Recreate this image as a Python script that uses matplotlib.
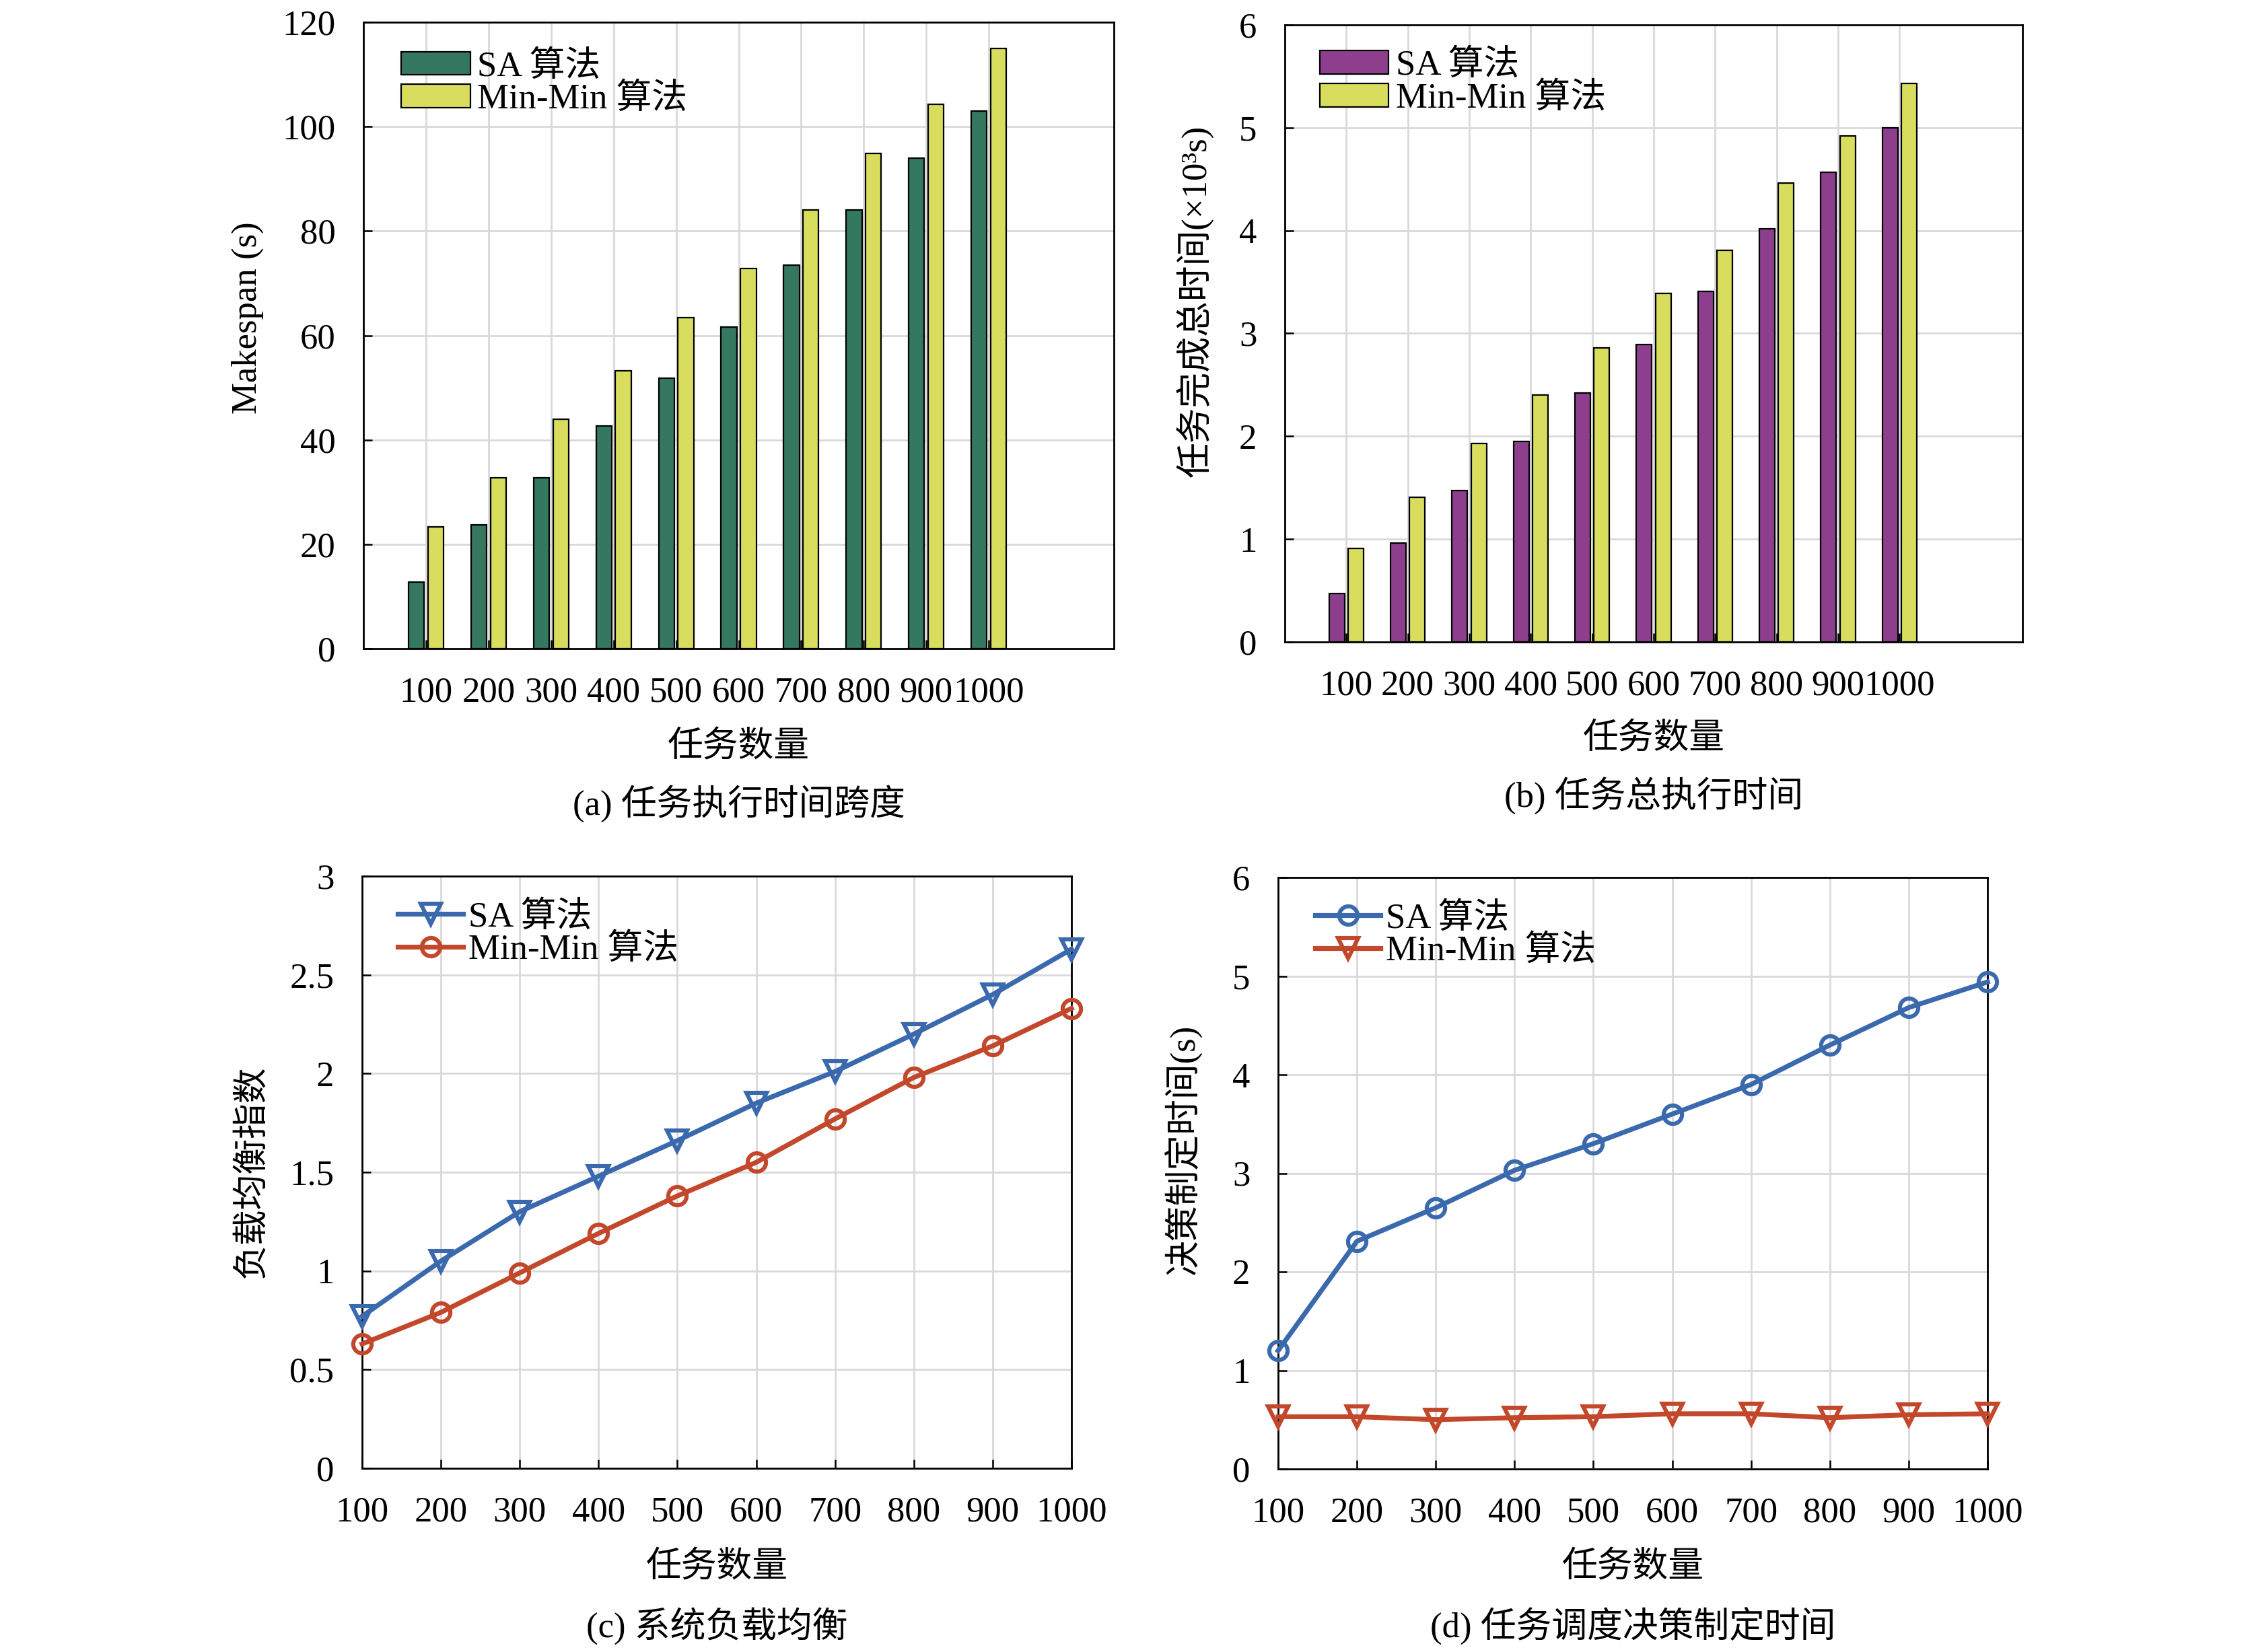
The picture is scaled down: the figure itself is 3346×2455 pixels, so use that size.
import numpy as np
import matplotlib
matplotlib.use('Agg')
import matplotlib.pyplot as plt
from matplotlib.ticker import FuncFormatter, MultipleLocator

plt.rcParams['font.family'] = ['Liberation Serif', 'Noto Sans CJK SC']
plt.rcParams['font.weight'] = 'light'
plt.rcParams['font.size'] = 19
plt.rcParams['axes.unicode_minus'] = False

# ---------------- data ----------------
tasks = [100, 200, 300, 400, 500, 600, 700, 800, 900, 1000]
tick_labels = [str(t) for t in tasks]
series_labels = ['SA 算法', 'Min-Min 算法']

makespan_sa = [12.7, 23.7, 32.7, 42.7, 51.8, 61.6, 73.5, 84.0, 94.0, 103.0]
makespan_minmin = [23.3, 32.7, 44.0, 53.2, 63.4, 72.8, 84.0, 94.9, 104.3, 115.0]

total_sa = [0.47, 0.96, 1.47, 1.95, 2.42, 2.89, 3.41, 4.02, 4.57, 5.00]
total_minmin = [0.91, 1.41, 1.93, 2.40, 2.86, 3.39, 3.81, 4.46, 4.92, 5.43]

balance_sa = [0.77, 1.05, 1.30, 1.48, 1.66, 1.85, 2.01, 2.20, 2.40, 2.63]
balance_minmin = [0.63, 0.79, 0.99, 1.19, 1.38, 1.55, 1.77, 1.98, 2.14, 2.33]

decision_sa = [1.20, 2.31, 2.65, 3.03, 3.30, 3.60, 3.90, 4.30, 4.68, 4.94]
decision_minmin = [0.53, 0.53, 0.50, 0.52, 0.53, 0.56, 0.56, 0.52, 0.55, 0.56]

titles = ['(a) 任务执行时间跨度', '(b) 任务总执行时间',
          '(c) 系统负载均衡', '(d) 任务调度决策制定时间']
ylabels = ['Makespan (s)', '任务完成总时间(×10³s)', '负载均衡指数', '决策制定时间(s)']
xlabel = '任务数量'

# ---------------- style ----------------
green = '#347860'
yellow = '#D8DD5E'
purple = '#8D3F8E'
blue = '#3A6AAD'
red = '#C3472B'
grid_c = '#D9D9D9'

W, H = 3346, 2455
fig = plt.figure(figsize=(W / 200, H / 200), dpi=200)


def px_axes(l, t, r, b):
    return fig.add_axes([l / W, 1 - b / H, (r - l) / W, (b - t) / H])


def style(ax, ylab, lab_x, lab_y, xlab_y, caption, cap_y_px, ax_box):
    for s in ax.spines.values():
        s.set_linewidth(1.0)
        s.set_color('black')
    ax.grid(True, color=grid_c, linewidth=1.0)
    ax.set_axisbelow(True)
    ax.tick_params(direction='in', length=4.6, width=0.9, pad=15, labelsize=19,
                   top=False, right=False)
    ax.set_ylabel(ylab, fontsize=19)
    ax.yaxis.set_label_coords(lab_x, lab_y)
    ax.yaxis.label.set_va('center')
    ax.set_xlabel(xlabel, fontsize=19)
    ax.xaxis.set_label_coords(0.5, xlab_y)
    ax.xaxis.label.set_va('center')
    l, t, r, b = ax_box
    fig.text(((l + r) / 2) / W, 1 - cap_y_px / H, caption, ha='center', va='center',
             fontsize=19)


leg_kw = dict(loc='upper left', frameon=False, borderpad=0, borderaxespad=0,
              fontsize=19, labelspacing=0.0)
line_kw = dict(lw=2.6, mew=2.2, mfc='none', clip_on=False, zorder=3)

# ---------------- (a) ----------------
box_a = (540, 33, 1655, 964)
ax = px_axes(*box_a)
x = np.arange(len(tasks))
bw = 0.25
ax.bar(x - 0.155, makespan_sa, bw, color=green, edgecolor='black', linewidth=0.8,
       label=series_labels[0])
ax.bar(x + 0.155, makespan_minmin, bw, color=yellow, edgecolor='black', linewidth=0.8,
       label=series_labels[1])
ax.set_xticks(x, tick_labels)
ax.set_xlim(-1.0, 11.0)
ax.set_ylim(0, 120)
ax.yaxis.set_major_locator(MultipleLocator(20))
style(ax, ylabels[0], -0.154, 0.528, -0.158, titles[0], 1194, box_a)
ax.legend(bbox_to_anchor=(0.05, 0.955), handlelength=1.95, handleheight=0.64,
          handletextpad=0.2, **leg_kw)

# ---------------- (b) ----------------
box_b = (1909, 37, 3005, 954)
ax = px_axes(*box_b)
ax.bar(x - 0.155, total_sa, bw, color=purple, edgecolor='black', linewidth=0.8,
       label=series_labels[0])
ax.bar(x + 0.155, total_minmin, bw, color=yellow, edgecolor='black', linewidth=0.8,
       label=series_labels[1])
ax.set_xticks(x, tick_labels)
ax.set_xlim(-1.0, 11.0)
ax.set_ylim(0, 6)
ax.yaxis.set_major_locator(MultipleLocator(1))
style(ax, ylabels[1], -0.122, 0.552, -0.158, titles[1], 1182, box_b)
ax.legend(bbox_to_anchor=(0.047, 0.96), handlelength=1.95, handleheight=0.64,
          handletextpad=0.2, **leg_kw)

fmt = FuncFormatter(lambda v, p: '%g' % v)

# ---------------- (c) ----------------
box_c = (538, 1302, 1592, 2182)
ax = px_axes(*box_c)
ax.plot(tasks, balance_sa, '-v', color=blue, ms=10.5, label=series_labels[0], **line_kw)
ax.plot(tasks, balance_minmin, '-o', color=red, ms=9.8, label=series_labels[1], **line_kw)
ax.set_xlim(100, 1000)
ax.set_xticks(tasks, tick_labels)
ax.set_ylim(0, 3)
ax.yaxis.set_major_locator(MultipleLocator(0.5))
ax.yaxis.set_major_formatter(fmt)
style(ax, ylabels[2], -0.155, 0.5, -0.168, titles[2], 2416, box_c)
ax.legend(bbox_to_anchor=(0.05, 0.958), handlelength=1.85, handletextpad=0.15,
          **leg_kw)

# ---------------- (d) ----------------
box_d = (1899, 1304, 2953, 2183)
ax = px_axes(*box_d)
ax.plot(tasks, decision_sa, '-o', color=blue, ms=9.8, label=series_labels[0], **line_kw)
ax.plot(tasks, decision_minmin, '-v', color=red, ms=10.5, label=series_labels[1], **line_kw)
ax.set_xlim(100, 1000)
ax.set_xticks(tasks, tick_labels)
ax.set_ylim(0, 6)
ax.yaxis.set_major_locator(MultipleLocator(1))
ax.yaxis.set_major_formatter(fmt)
style(ax, ylabels[3], -0.135, 0.539, -0.167, titles[3], 2416, box_d)
ax.legend(bbox_to_anchor=(0.052, 0.958), handlelength=1.85, handletextpad=0.15,
          **leg_kw)

fig.savefig('out.png', dpi=200, facecolor='white')
